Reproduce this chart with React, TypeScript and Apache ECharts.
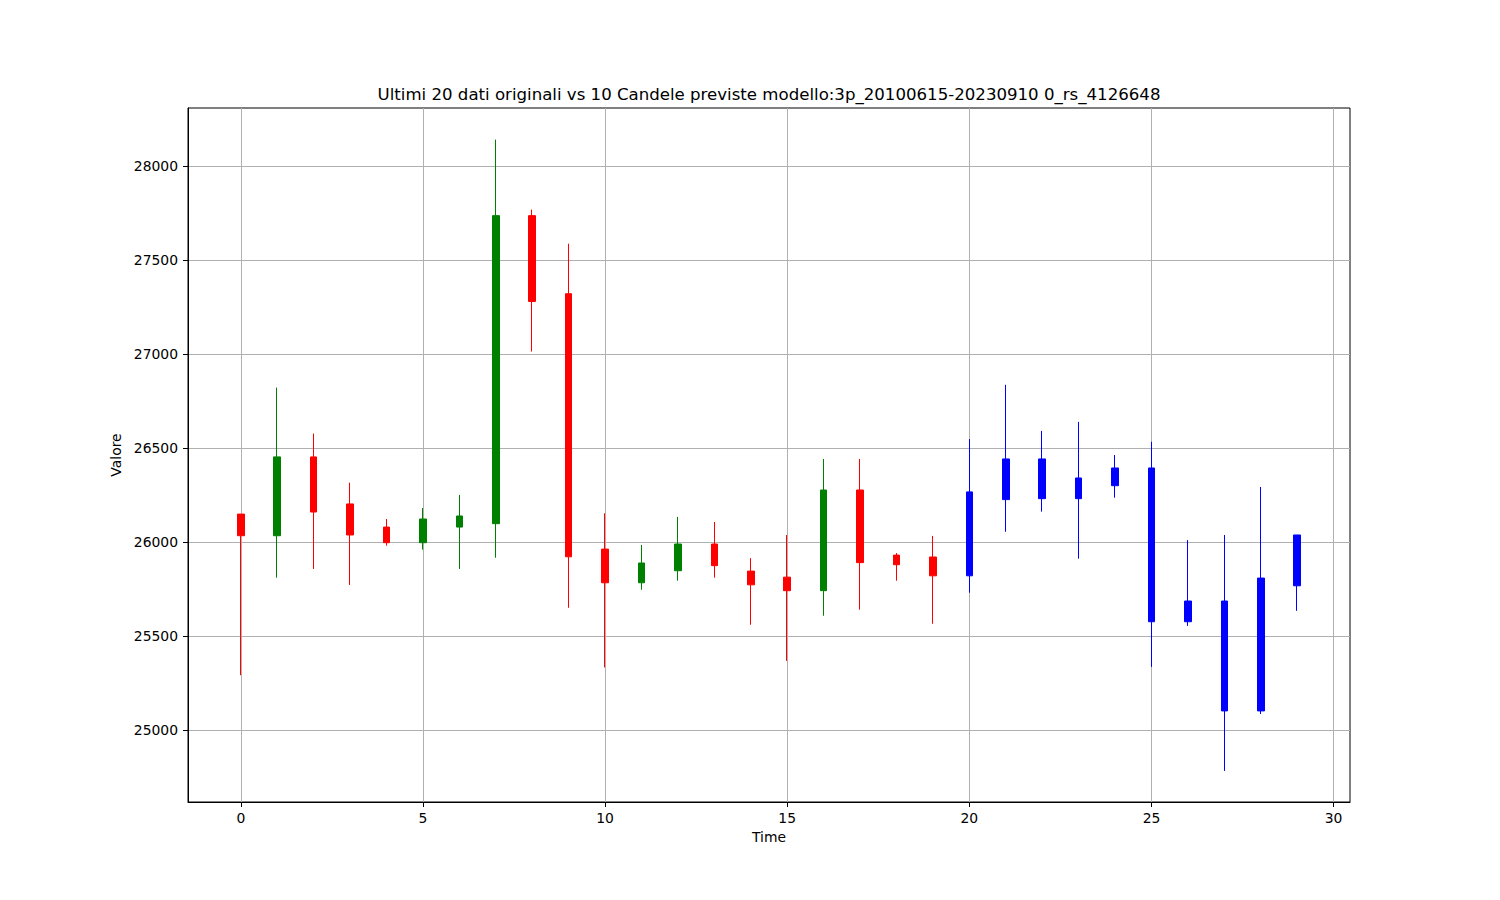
import React, { useEffect, useRef } from "react";
import * as echarts from "echarts";

const TITLE = "Ultimi 20 dati originali vs 10 Candele previste modello:3p_20100615-20230910 0_rs_4126648";

// Original candles (t = 0..19)
const realTimes = [0, 1, 2, 3, 4, 5, 6, 7, 8, 9, 10, 11, 12, 13, 14, 15, 16, 17, 18, 19];
const realOpen = [26150, 26035, 26454, 26204, 26081, 25998, 26081, 26099, 27736, 27321, 25964, 25785, 25849, 25991, 25847, 25815, 25743, 26278, 25932, 25922];
const realClose = [26035, 26454, 26161, 26039, 25998, 26124, 26140, 27736, 27280, 25923, 25785, 25890, 25991, 25876, 25774, 25743, 26278, 25892, 25881, 25822];
const realLow = [25294, 25812, 25858, 25773, 25982, 25961, 25858, 25918, 27014, 25652, 25335, 25748, 25796, 25812, 25562, 25370, 25610, 25642, 25796, 25567];
const realHigh = [26150, 26822, 26578, 26317, 26124, 26182, 26252, 28140, 27768, 27587, 26154, 25986, 26135, 26108, 25916, 26039, 26443, 26443, 25943, 26034];

// Predicted candles (t = 20..29)
const predTimes = [20, 21, 22, 23, 24, 25, 26, 27, 28, 29];
const predOpen = [25822, 26227, 26443, 26232, 26301, 26395, 25578, 25688, 25104, 25769];
const predClose = [26268, 26443, 26232, 26342, 26395, 25578, 25688, 25104, 25810, 26039];
const predLow = [25732, 26056, 26163, 25913, 26237, 25338, 25556, 24785, 25088, 25636];
const predHigh = [26549, 26837, 26592, 26640, 26464, 26534, 26012, 26039, 26294, 26039];

// Tick values
const xTicks = [0, 5, 10, 15, 20, 25, 30];
const yTicks = [25000, 25500, 26000, 26500, 27000, 27500, 28000];

const X_MIN = -1.45;
const X_MAX = 30.45;
const Y_MIN = 24620;
const Y_MAX = 28308;

const FONT = "DejaVu Sans";

export default function App() {
  const ref = useRef<HTMLDivElement>(null);

  useEffect(() => {
    if (!ref.current) return;
    const chart = echarts.init(ref.current, undefined, { renderer: "svg" });

    const realData = realTimes.map((t, i) => [t, realOpen[i], realClose[i], realLow[i], realHigh[i]]);
    const predData = predTimes.map((t, i) => [t, predOpen[i], predClose[i], predLow[i], predHigh[i]]);

    chart.setOption({
      animation: false,
      backgroundColor: "#ffffff",
      textStyle: { fontFamily: FONT },
      graphic: [
        {
          type: "text",
          x: 769,
          y: 94,
          style: {
            text: TITLE,
            fill: "#000",
            font: `16.6px '${FONT}'`,
            textAlign: "center",
            textVerticalAlign: "middle",
          },
        },
      ],
      grid: {
        left: 188,
        top: 108,
        width: 1162,
        height: 694,
        show: true,
        borderColor: "#000",
        borderWidth: 1,
        backgroundColor: "transparent",
      },
      xAxis: {
        type: "value",
        min: X_MIN,
        max: X_MAX,
        splitNumber: 5,
        name: "Time",
        nameLocation: "middle",
        nameGap: 27,
        nameTextStyle: { color: "#000", fontSize: 13.9, fontFamily: FONT },
        axisLine: { show: true, onZero: false, lineStyle: { color: "#000", width: 1 } },
        axisTick: { show: true, length: 5, customValues: xTicks, lineStyle: { color: "#000" } },
        axisLabel: {
          color: "#000",
          fontSize: 13.9,
          fontFamily: FONT,
          margin: 9,
          customValues: xTicks,
          formatter: (v: number) => (Math.abs(v % 5) < 1e-9 ? String(Math.round(v)) : ""),
        },
        splitLine: { show: true, lineStyle: { color: "#b0b0b0", width: 1 } },
      },
      yAxis: {
        type: "value",
        min: Y_MIN,
        max: Y_MAX,
        splitNumber: 7,
        scale: true,
        name: "Valore",
        nameLocation: "middle",
        nameRotate: 90,
        nameGap: 59,
        nameTextStyle: { color: "#000", fontSize: 13.9, fontFamily: FONT },
        axisLine: { show: true, onZero: false, lineStyle: { color: "#000", width: 1 } },
        axisTick: { show: true, length: 5, customValues: yTicks, lineStyle: { color: "#000" } },
        axisLabel: {
          color: "#000",
          fontSize: 13.9,
          fontFamily: FONT,
          margin: 10,
          customValues: yTicks,
          formatter: (v: number) => (Math.abs(v % 500) < 1e-6 ? String(Math.round(v)) : ""),
        },
        splitLine: { show: true, lineStyle: { color: "#b0b0b0", width: 1 } },
      },
      series: [
        {
          name: "Originali",
          type: "candlestick",
          data: realData,
          encode: { x: 0, y: [1, 2, 3, 4] },
          barWidth: 7,
          itemStyle: {
            color: "#008000",
            color0: "#ff0000",
            borderColor: "#008000",
            borderColor0: "#ff0000",
            borderWidth: 1,
          },
        },
        {
          name: "Previste",
          type: "candlestick",
          data: predData,
          encode: { x: 0, y: [1, 2, 3, 4] },
          barWidth: 7,
          itemStyle: {
            color: "#0000ff",
            color0: "#0000ff",
            borderColor: "#0000ff",
            borderColor0: "#0000ff",
            borderWidth: 1,
          },
        },
      ],
    });

    return () => {
      chart.dispose();
    };
  }, []);

  return (
    <div
      ref={ref}
      style={{ position: "fixed", left: 0, top: 0, width: 1500, height: 900 }}
    />
  );
}
